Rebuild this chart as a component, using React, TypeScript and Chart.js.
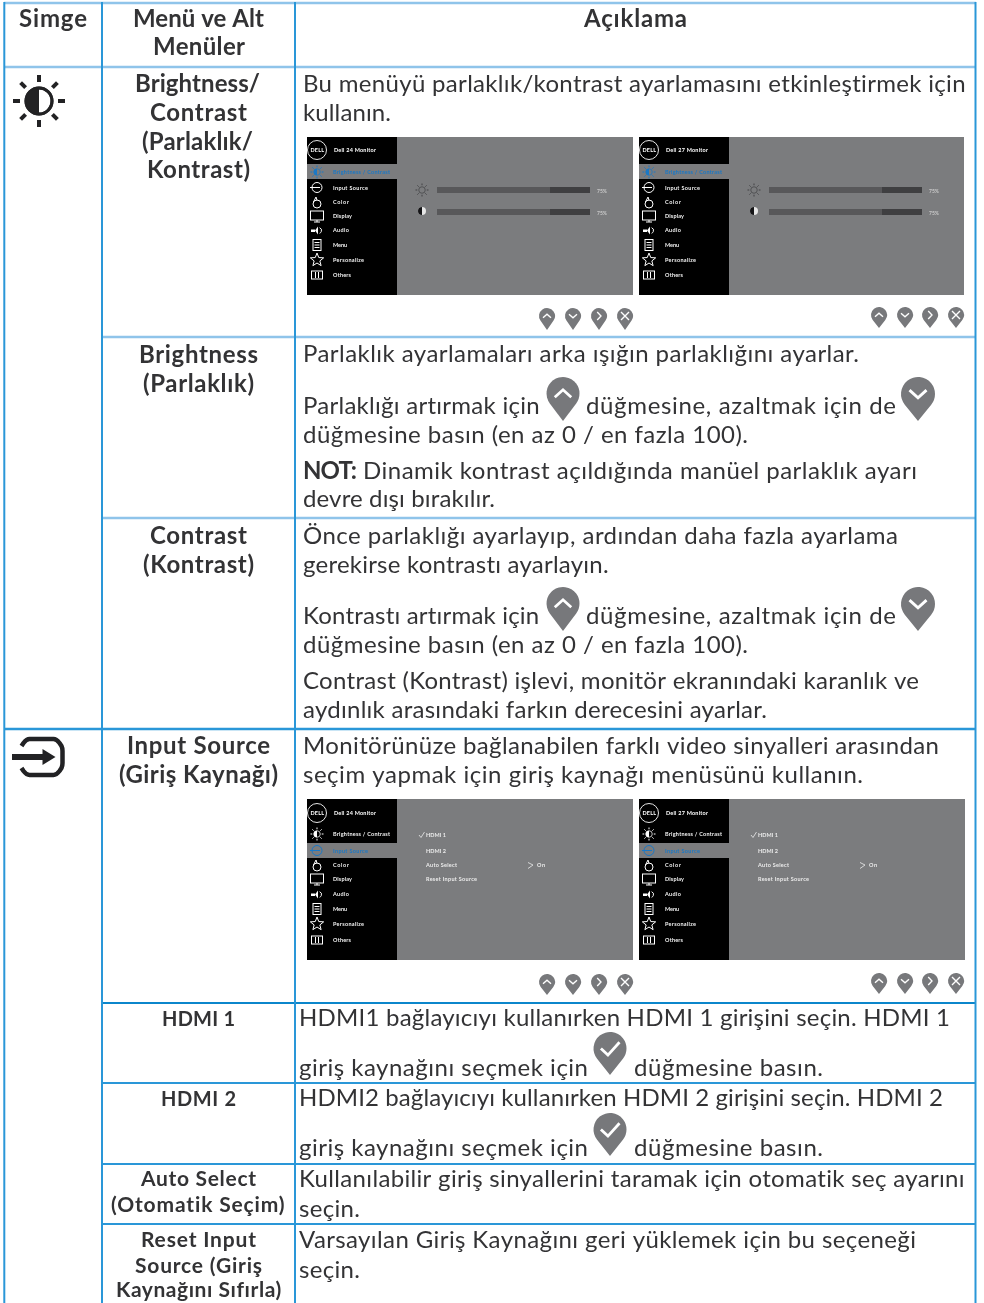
import React, { useEffect, useRef } from "react";
import { Chart, registerables } from "chart.js";

Chart.register(...registerables);

// ---- text content ----
const HEADER_TEXTS = ["Simge", "Menü ve Alt", "Menüler", "Açıklama"];
const MENU_TEXTS = [
  "Brightness/", "Contrast", "(Parlaklık/", "Kontrast)",
  "Brightness", "(Parlaklık)",
  "Contrast", "(Kontrast)",
  "Input Source", "(Giriş Kaynağı)",
  "HDMI 1", "HDMI 2",
  "Auto Select", "(Otomatik Seçim)",
  "Reset Input", "Source (Giriş", "Kaynağını Sıfırla)",
];
const DESC_TEXTS = [
  "Bu menüyü parlaklık/kontrast ayarlamasını etkinleştirmek için",
  "kullanın.",
  "Parlaklık ayarlamaları arka ışığın parlaklığını ayarlar.",
  "Parlaklığı artırmak için",
  "düğmesine, azaltmak için de",
  "düğmesine basın (en az 0 / en fazla 100).",
  "Dinamik kontrast açıldığında manüel parlaklık ayarı",
  "devre dışı bırakılır.",
  "Önce parlaklığı ayarlayıp, ardından daha fazla ayarlama",
  "gerekirse kontrastı ayarlayın.",
  "Kontrastı artırmak için",
  "düğmesine, azaltmak için de",
  "düğmesine basın (en az 0 / en fazla 100).",
  "Contrast (Kontrast) işlevi, monitör ekranındaki karanlık ve",
  "aydınlık arasındaki farkın derecesini ayarlar.",
  "Monitörünüze bağlanabilen farklı video sinyalleri arasından",
  "seçim yapmak için giriş kaynağı menüsünü kullanın.",
  "HDMI1 bağlayıcıyı kullanırken HDMI 1 girişini seçin. HDMI 1",
  "giriş kaynağını seçmek için",
  "düğmesine basın.",
  "HDMI2 bağlayıcıyı kullanırken HDMI 2 girişini seçin. HDMI 2",
  "giriş kaynağını seçmek için",
  "düğmesine basın.",
  "Kullanılabilir giriş sinyallerini taramak için otomatik seç ayarını",
  "seçin.",
  "Varsayılan Giriş Kaynağını geri yüklemek için bu seçeneği",
  "seçin.",
];
const NOTE_TEXT = "NOT:";
const OSD_MENU_ITEMS = ["Brightness / Contrast", "Input Source", "Color", "Display", "Audio", "Menu", "Personalize", "Others"];
const OSD_MODELS = ["Dell 24 Monitor", "Dell 27 Monitor"];
const OSD_INPUTS = ["HDMI 1", "HDMI 2", "Auto Select", "Reset Input Source"];
const OSD_ON = "On";
const SLIDER_VALUES = [75, 75];

// ---- layout (x0, x1, baseline) ----
const HEADER_BOX = [[19, 87, 27], [133, 264, 27], [153, 245, 55], [584, 687, 27]];
const MENU_BOX = [
  [135, 260, 92], [150, 247, 121], [142, 253, 150], [147, 250, 178],
  [139, 258, 363], [143, 254, 392],
  [150, 247, 544], [143, 254, 573],
  [127, 270, 754], [119, 278, 783],
  [162, 235, 1026], [161, 236, 1106],
  [141, 256, 1186], [111, 285, 1212],
  [141, 256, 1247], [135, 262, 1273], [116, 281, 1297],
];
const MENU_SIZE = [24, 24, 24, 24, 24, 24, 24, 24, 24, 24, 20, 20, 21, 21, 21, 21, 21];
const DESC_BOX = [
  [303, 966, 92], [303, 391, 121], [303, 859, 362], [303, 540, 414], [586, 896, 414],
  [303, 748, 443], [363, 917, 479], [303, 495, 507], [303, 898, 544], [303, 609, 573],
  [303, 540, 624], [586, 896, 624], [303, 748, 653], [303, 919, 689], [303, 767, 718],
  [303, 939, 754], [303, 863, 783], [299, 950, 1026], [299, 588, 1076], [634, 823, 1076],
  [299, 943, 1106], [299, 588, 1156], [634, 823, 1156], [299, 965, 1187], [299, 360, 1217],
  [299, 916, 1248], [299, 360, 1278],
];
const NOTE_BOX = [303, 357, 479];

const RULE_LIGHT = "#8fc4ea";
const RULE_MID = "#2a97d8";
const RULE_DARK = "#0b86cb";
const RULES: [number, number, number, number, string, number][] = [
  [4.3, 2, 4.3, 1303, RULE_MID, 2],
  [102, 2, 102, 1303, RULE_MID, 2],
  [295, 2, 295, 1303, RULE_MID, 2],
  [975.5, 2, 975.5, 1303, RULE_MID, 2],
  [4, 3, 976, 3, RULE_LIGHT, 2.5],
  [4, 67, 976, 67, RULE_LIGHT, 2.5],
  [102, 337, 976, 337, RULE_LIGHT, 2.5],
  [102, 518, 976, 518, RULE_LIGHT, 2.5],
  [4, 729, 976, 729, RULE_MID, 2.5],
  [102, 1003, 976, 1003, RULE_DARK, 2],
  [102, 1083, 976, 1083, RULE_MID, 2],
  [102, 1164, 976, 1164, RULE_MID, 2],
  [102, 1224, 976, 1224, RULE_MID, 2],
];

const PANELS_TOP = [[307, 633, 137, 295, 0], [639, 964, 137, 295, 1]];
const PANELS_BOTTOM = [[307, 633, 799, 960, 0], [639, 965, 799, 960, 1]];
const ROWS_TOP = [172, 188, 202, 216, 230, 245, 260, 275];
const ROWS_BOTTOM = [834, 851, 865, 879, 894, 909, 924, 940];
const INPUT_ROWS = [835, 851, 865, 879];

const FONT = "Lato";
const INK = "#333335";
const PIN = "#77787b";
const OSD_GREY = "#7b7c7e";
const OSD_BLUE = "#1a78c6";

function fit(ctx: CanvasRenderingContext2D, t: string, x0: number, x1: number, y: number) {
  (ctx as any).letterSpacing = "0px";
  const m = ctx.measureText(t).width;
  const n = Math.max(1, t.length - 1);
  (ctx as any).letterSpacing = `${(x1 - x0 - m) / n}px`;
  ctx.fillText(t, x0, y);
  (ctx as any).letterSpacing = "0px";
}

function pin(ctx: CanvasRenderingContext2D, cx: number, top: number, r: number, tip: number, glyph: string) {
  const cy = top + r;
  const d = tip - cy;
  const t = Math.PI / 2 - Math.acos(r / d);
  ctx.fillStyle = PIN;
  ctx.beginPath();
  ctx.arc(cx, cy, r, Math.PI - t, Math.PI * 2 + t);
  ctx.lineTo(cx, tip);
  ctx.closePath();
  ctx.fill();
  ctx.strokeStyle = "#fff";
  ctx.lineWidth = r * 0.17;
  ctx.lineCap = "butt";
  ctx.lineJoin = "miter";
  const s = r * 0.5;
  ctx.beginPath();
  if (glyph === "up") { ctx.moveTo(cx - s, cy + s * 0.45); ctx.lineTo(cx, cy - s * 0.45); ctx.lineTo(cx + s, cy + s * 0.45); }
  if (glyph === "down") { ctx.moveTo(cx - s, cy - s * 0.45); ctx.lineTo(cx, cy + s * 0.45); ctx.lineTo(cx + s, cy - s * 0.45); }
  if (glyph === "right") { ctx.moveTo(cx - s * 0.45, cy - s); ctx.lineTo(cx + s * 0.5, cy); ctx.lineTo(cx - s * 0.45, cy + s); }
  if (glyph === "x") { ctx.moveTo(cx - s, cy - s); ctx.lineTo(cx + s, cy + s); ctx.moveTo(cx + s, cy - s); ctx.lineTo(cx - s, cy + s); }
  if (glyph === "check") { ctx.moveTo(cx - s * 1.1, cy); ctx.lineTo(cx - s * 0.25, cy + s * 0.8); ctx.lineTo(cx + s * 1.15, cy - s * 0.75); }
  ctx.stroke();
}

function sun(ctx: CanvasRenderingContext2D, cx: number, cy: number, r: number, color: string, half: boolean, lw: number) {
  ctx.strokeStyle = color;
  ctx.lineWidth = lw;
  ctx.lineCap = "butt";
  for (let i = 0; i < 8; i++) {
    const a = (i * Math.PI) / 4;
    ctx.beginPath();
    ctx.moveTo(cx + Math.cos(a) * r * 0.73, cy + Math.sin(a) * r * 0.73);
    ctx.lineTo(cx + Math.cos(a) * r, cy + Math.sin(a) * r);
    ctx.stroke();
  }
  ctx.lineWidth = lw * 0.75;
  ctx.beginPath();
  ctx.arc(cx, cy, r * 0.5, 0, Math.PI * 2);
  ctx.stroke();
  if (half) {
    ctx.fillStyle = color;
    ctx.beginPath();
    ctx.arc(cx, cy, r * 0.5, Math.PI / 2, (Math.PI * 3) / 2);
    ctx.fill();
  }
}

function inputIcon(ctx: CanvasRenderingContext2D, cx: number, cy: number, color: string) {
  // rounded octagon
  ctx.strokeStyle = color;
  ctx.lineWidth = 4.5;
  ctx.lineJoin = "round";
  ctx.beginPath();
  ctx.moveTo(cx - 12, cy - 18);
  ctx.lineTo(cx + 12, cy - 18);
  ctx.quadraticCurveTo(cx + 15, cy - 18, cx + 18, cy - 14);
  ctx.lineTo(cx + 20, cy - 11);
  ctx.quadraticCurveTo(cx + 21, cy - 9, cx + 21, cy - 6);
  ctx.lineTo(cx + 21, cy + 6);
  ctx.quadraticCurveTo(cx + 21, cy + 9, cx + 20, cy + 11);
  ctx.lineTo(cx + 18, cy + 14);
  ctx.quadraticCurveTo(cx + 15, cy + 18, cx + 12, cy + 18);
  ctx.lineTo(cx - 12, cy + 18);
  ctx.quadraticCurveTo(cx - 15, cy + 18, cx - 18, cy + 14);
  ctx.lineTo(cx - 20, cy + 11);
  ctx.moveTo(cx - 20, cy - 11);
  ctx.lineTo(cx - 18, cy - 14);
  ctx.quadraticCurveTo(cx - 15, cy - 18, cx - 12, cy - 18);
  ctx.stroke();
  // arrow
  ctx.fillStyle = color;
  ctx.fillRect(cx - 29.5, cy - 3, 33, 6);
  ctx.beginPath();
  ctx.moveTo(cx + 14, cy);
  ctx.lineTo(cx + 1, cy - 8);
  ctx.lineTo(cx + 1, cy + 8);
  ctx.closePath();
  ctx.fill();
}

function osdIcon(ctx: CanvasRenderingContext2D, i: number, cx: number, cy: number, color: string) {
  ctx.strokeStyle = color;
  ctx.fillStyle = color;
  ctx.lineWidth = 1;
  ctx.lineCap = "butt";
  ctx.lineJoin = "miter";
  if (i === 0) { sun(ctx, cx, cy, 6.5, color, true, 1); return; }
  if (i === 1) {
    ctx.beginPath(); ctx.arc(cx, cy - 0.5, 5, 0, Math.PI * 2); ctx.stroke();
    ctx.beginPath(); ctx.moveTo(cx - 7, cy - 0.5); ctx.lineTo(cx + 3, cy - 0.5); ctx.stroke();
    return;
  }
  if (i === 2) {
    ctx.beginPath(); ctx.arc(cx, cy + 2, 4, 0, Math.PI * 2); ctx.stroke();
    ctx.beginPath(); ctx.moveTo(cx - 3.5, cy); ctx.lineTo(cx - 1, cy - 5); ctx.lineTo(cx, cy - 1.5); ctx.stroke();
    return;
  }
  if (i === 3) {
    ctx.strokeRect(cx - 6.5, cy - 5, 13, 9);
    ctx.beginPath(); ctx.moveTo(cx, cy + 4); ctx.lineTo(cx, cy + 6); ctx.moveTo(cx - 3, cy + 6); ctx.lineTo(cx + 3, cy + 6); ctx.stroke();
    return;
  }
  if (i === 4) {
    ctx.fillRect(cx - 6, cy - 0.5, 4, 2.5);
    ctx.beginPath(); ctx.moveTo(cx - 2, cy + 0.5); ctx.lineTo(cx + 1, cy - 3.5); ctx.lineTo(cx + 1, cy + 4.5); ctx.closePath(); ctx.fill();
    ctx.beginPath(); ctx.arc(cx + 1.5, cy + 0.5, 3, -1.2, 1.2); ctx.stroke();
    return;
  }
  if (i === 5) {
    ctx.strokeRect(cx - 4, cy - 5.5, 8, 11);
    ctx.beginPath();
    [-2.5, 0, 2.5].forEach((d) => { ctx.moveTo(cx - 2.5, cy + d); ctx.lineTo(cx + 2.5, cy + d); });
    ctx.stroke();
    return;
  }
  if (i === 6) {
    ctx.beginPath();
    for (let k = 0; k < 10; k++) {
      const a = -Math.PI / 2 + (k * Math.PI) / 5;
      const r = k % 2 ? 3 : 7;
      const px = cx + Math.cos(a) * r;
      const py = cy + Math.sin(a) * r;
      if (k) ctx.lineTo(px, py); else ctx.moveTo(px, py);
    }
    ctx.closePath();
    ctx.stroke();
    return;
  }
  ctx.strokeRect(cx - 5.5, cy - 4, 11, 8);
  ctx.beginPath();
  ctx.moveTo(cx - 1.5, cy - 3); ctx.lineTo(cx - 1.5, cy + 3);
  ctx.moveTo(cx + 1.5, cy - 3); ctx.lineTo(cx + 1.5, cy + 3);
  ctx.stroke();
}

function drawOsd(ctx: CanvasRenderingContext2D, p: number[], rows: number[], active: number, headY: number) {
  const [x0, x1, y0, y1, model] = p;
  ctx.fillStyle = OSD_GREY;
  ctx.fillRect(x0, y0, x1 - x0, y1 - y0);
  ctx.fillStyle = "#000";
  ctx.fillRect(x0, y0, 90, y1 - y0);
  ctx.fillStyle = OSD_GREY;
  ctx.fillRect(x0, rows[active] - 8, 90, 15);
  // logo and model name
  ctx.strokeStyle = "#fff";
  ctx.lineWidth = 0.9;
  ctx.beginPath();
  ctx.arc(x0 + 10, headY, 9.5, 0, Math.PI * 2);
  ctx.stroke();
  ctx.fillStyle = "#fff";
  ctx.font = `700 5.5px ${FONT}`;
  fit(ctx, "DELL", x0 + 3.5, x0 + 17, headY + 2);
  ctx.font = `700 5.5px ${FONT}`;
  fit(ctx, OSD_MODELS[model], x0 + 27, x0 + 69, headY + 2);
  OSD_MENU_ITEMS.forEach((t, i) => {
    const on = i === active;
    const c = on ? OSD_BLUE : "#fff";
    osdIcon(ctx, i, x0 + 10, rows[i], c);
    ctx.fillStyle = on ? OSD_BLUE : "#f2f2f2";
    ctx.font = `700 5.5px ${FONT}`;
    const widths = [57, 35, 16, 19, 16, 14, 31, 18];
    fit(ctx, t, x0 + 26, x0 + 26 + widths[i], rows[i] + 2);
  });
}

const drawPlugin = {
  id: "tableContent",
  afterDatasetsDraw(chart: any) {
    const ctx: CanvasRenderingContext2D = chart.ctx;
    const sx = chart.scales.x;
    const sy = chart.scales.y;
    ctx.save();
    ctx.textBaseline = "alphabetic";
    ctx.textAlign = "left";

    ctx.fillStyle = INK;
    ctx.font = `700 24px ${FONT}`;
    HEADER_TEXTS.forEach((t, i) => {
      const b = HEADER_BOX[i];
      fit(ctx, t, sx.getPixelForValue(b[0]), sx.getPixelForValue(b[1]), sy.getPixelForValue(b[2]));
    });
    MENU_TEXTS.forEach((t, i) => {
      const b = MENU_BOX[i];
      ctx.font = `700 ${MENU_SIZE[i]}px ${FONT}`;
      fit(ctx, t, sx.getPixelForValue(b[0]), sx.getPixelForValue(b[1]), sy.getPixelForValue(b[2]));
    });
    ctx.font = `400 24px ${FONT}`;
    DESC_TEXTS.forEach((t, i) => {
      const b = DESC_BOX[i];
      fit(ctx, t, sx.getPixelForValue(b[0]), sx.getPixelForValue(b[1]), sy.getPixelForValue(b[2]));
    });
    ctx.font = `700 24px ${FONT}`;
    fit(ctx, NOTE_TEXT, NOTE_BOX[0], NOTE_BOX[1], NOTE_BOX[2]);

    // on-screen menu panels, first block
    PANELS_TOP.forEach((p) => {
      drawOsd(ctx, p, ROWS_TOP, 0, 150);
      const x0 = p[0];
      sun(ctx, x0 + 115, 190, 6.5, "#2a2a2c", false, 0.7);
      // half-filled contrast disc
      ctx.fillStyle = "#e6e6e6";
      ctx.beginPath();
      ctx.arc(x0 + 115, 211, 4, 0, Math.PI * 2);
      ctx.fill();
      ctx.fillStyle = "#151517";
      ctx.beginPath();
      ctx.arc(x0 + 115, 211, 4, Math.PI / 2, (Math.PI * 3) / 2);
      ctx.fill();
      SLIDER_VALUES.forEach((v, i) => {
        const y = i ? 209 : 187;
        const left = x0 + 130;
        const w = 153;
        ctx.fillStyle = "#3f3f41";
        ctx.fillRect(left, y, w, 6);
        ctx.fillStyle = "#58585a";
        ctx.fillRect(left, y, w * (v / 100) * 0.985, 6);
        ctx.fillStyle = "#c8c8c8";
        ctx.font = `700 5px ${FONT}`;
        ctx.fillText(`${v}%`, left + 160, y + 6);
      });
    });
    // on-screen menu panels, second block
    PANELS_BOTTOM.forEach((p) => {
      drawOsd(ctx, p, ROWS_BOTTOM, 1, 813);
      const x0 = p[0];
      ctx.fillStyle = "#ececec";
      ctx.font = `700 5.5px ${FONT}`;
      const widths = [20, 20, 31, 51];
      OSD_INPUTS.forEach((t, i) => fit(ctx, t, x0 + 119, x0 + 119 + widths[i], INPUT_ROWS[i] + 2));
      ctx.strokeStyle = "#ececec";
      ctx.lineWidth = 0.8;
      ctx.lineJoin = "miter";
      ctx.beginPath();
      ctx.moveTo(x0 + 112, 835); ctx.lineTo(x0 + 114, 837.5); ctx.lineTo(x0 + 117.5, 832);
      ctx.moveTo(x0 + 221, 862.5); ctx.lineTo(x0 + 226, 865); ctx.lineTo(x0 + 221, 868.5);
      ctx.stroke();
      fit(ctx, OSD_ON, x0 + 230, x0 + 238, 867);
    });

    // small button pins
    const glyphs = ["up", "down", "right", "x"];
    [547, 573, 599, 625].forEach((x, i) => pin(ctx, x, 308, 8, 330, glyphs[i]));
    [879, 905, 930, 956].forEach((x, i) => pin(ctx, x, 307, 8, 328, glyphs[i]));
    [547, 573, 599, 625].forEach((x, i) => pin(ctx, x, 974, 8, 995, glyphs[i]));
    [879, 905, 930, 956].forEach((x, i) => pin(ctx, x, 973, 8, 994, glyphs[i]));

    // large button pins
    [377, 587].forEach((top) => {
      pin(ctx, 563, top, 16.5, top + 44, "up");
      pin(ctx, 918, top, 17, top + 44, "down");
    });
    [1032, 1113].forEach((top) => pin(ctx, 610, top, 16.5, top + 43, "check"));

    // row icons
    sun(ctx, 39, 101, 26, "#222224", false, 4);
    ctx.strokeStyle = "#222224";
    ctx.lineWidth = 3;
    ctx.beginPath();
    ctx.arc(39, 101, 13, 0, Math.PI * 2);
    ctx.stroke();
    ctx.fillStyle = "#222224";
    ctx.beginPath();
    ctx.arc(39, 101, 13, Math.PI / 2, (Math.PI * 3) / 2);
    ctx.fill();
    inputIcon(ctx, 41.5, 757, "#222224");
    ctx.restore();
  },
};

export default function App() {
  const ref = useRef<HTMLCanvasElement>(null);
  useEffect(() => {
    document.body.style.margin = "0";
    const chart = new Chart(ref.current as HTMLCanvasElement, {
      type: "line",
      data: {
        datasets: RULES.map((r) => ({
          data: [{ x: r[0], y: r[1] }, { x: r[2], y: r[3] }],
          borderColor: r[4],
          borderWidth: r[5],
          pointRadius: 0,
          fill: false,
          tension: 0,
        })),
      },
      options: {
        animation: false,
        responsive: false,
        maintainAspectRatio: false,
        layout: { padding: 0 },
        scales: {
          x: { type: "linear", min: 0, max: 984, display: false },
          y: { type: "linear", min: 0, max: 1303, reverse: true, display: false },
        },
        plugins: { legend: { display: false }, tooltip: { enabled: false }, title: { display: false } },
      },
      plugins: [drawPlugin],
    } as any);
    return () => chart.destroy();
  }, []);
  return <canvas ref={ref} width={984} height={1303} style={{ display: "block", background: "#fff" }} />;
}
